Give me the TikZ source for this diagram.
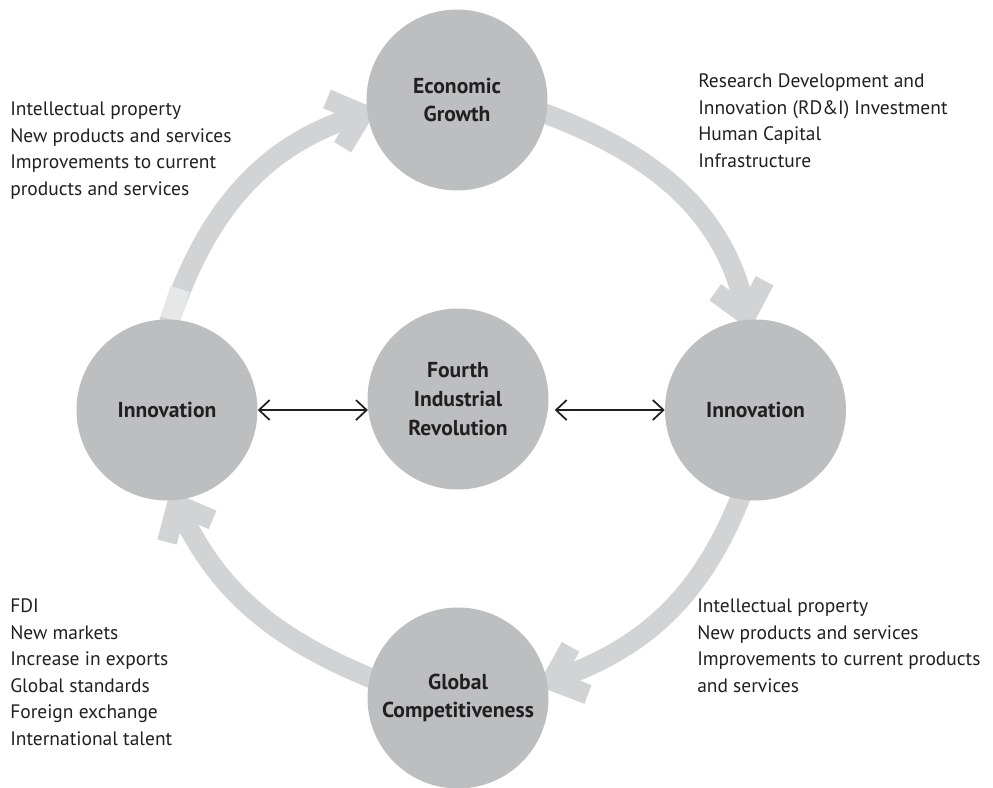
\documentclass[tikz,border=0pt]{standalone}
\usepackage{fontspec}
\setmainfont{PT Sans}
\usetikzlibrary{arrows.meta,backgrounds}

\definecolor{disc}{HTML}{BCBEC0}
\definecolor{ringgray}{HTML}{D1D3D4}
\definecolor{ringfade}{HTML}{E6E7E8}
\definecolor{ink}{HTML}{231F20}

\begin{document}
\begin{tikzpicture}[
  x=0.75pt, y=0.75pt,
  >=Stealth,
  c/.style={circle, fill=disc, minimum size=135.75pt, inner sep=0pt, align=center, text=ink, font=\bfseries\fontsize{16.2pt}{21pt}\selectfont},
  ring/.style={line width=15pt, draw=ringgray, shorten <=-6pt, shorten >=-8pt, -{Straight Barb[sharp, length=22pt, width=38pt]}},
  fade/.style={line width=15pt, draw=ringfade},
  link/.style={{Straight Barb[length=8pt, width=15pt]}-{Straight Barb[length=8pt, width=15pt]}, line width=1.3pt, draw=ink},
  txt/.style={anchor=base west, align=left, inner sep=0pt, text=ink, font=\fontsize{14.6pt}{19.9pt}\selectfont}
]
\useasboundingbox (0,0) rectangle (993,-788);

% --- Circles ---
\node[c] (EG)  at (457,-100)   {Economic\\Growth};
\node[c] (IL)  at (167,-410)   {Innovation};
\node[c, font=\bfseries\fontsize{16.2pt}{22pt}\selectfont] (FIR) at (458,-399) {Fourth\\Industrial\\Revolution};
\node[c] (IR)  at (755.5,-410) {Innovation};
\node[c] (GC)  at (458,-698)   {Global\\Competitiveness};

% --- Cycle arcs (behind the circles) ---
\begin{scope}[on background layer]
\draw[ring] (IL.88)  to[out=72, in=198]  (EG.188);
\draw[ring] (EG.-9)  to[out=-20, in=103] (IR.95);
\draw[ring] (IR.260) to[out=249, in=20]  (GC.10);
\draw[ring] (GC.167) to[out=158, in=-64] (IL.275);
\path (IL.88) ++(72:32) coordinate (fadeEnd);
\draw[fade] (IL.88) -- (fadeEnd);
\end{scope}

% --- Links to the centre ---
\draw[link] (IL.east) -- (FIR.187);
\draw[link, shorten <=5pt] (FIR.-7) -- (IR.west);

% --- Side texts (placed by the baseline of their last line) ---
\node[txt] (tTL) at (10,-195.5) {Intellectual property\\New products and services\\Improvements to current\\products and services};
\node[txt] (tTR) at (698,-167.5) {Research Development and\\Innovation (RD\&I) Investment\\Human Capital\\Infrastructure};
\node[txt] (tBL) at (10,-745.5) {FDI\\New markets\\Increase in exports\\Global standards\\Foreign exchange\\International talent};
\node[txt] (tBR) at (697,-692.5) {Intellectual property\\New products and services\\Improvements to current products\\and services};

\end{tikzpicture}
\end{document}
